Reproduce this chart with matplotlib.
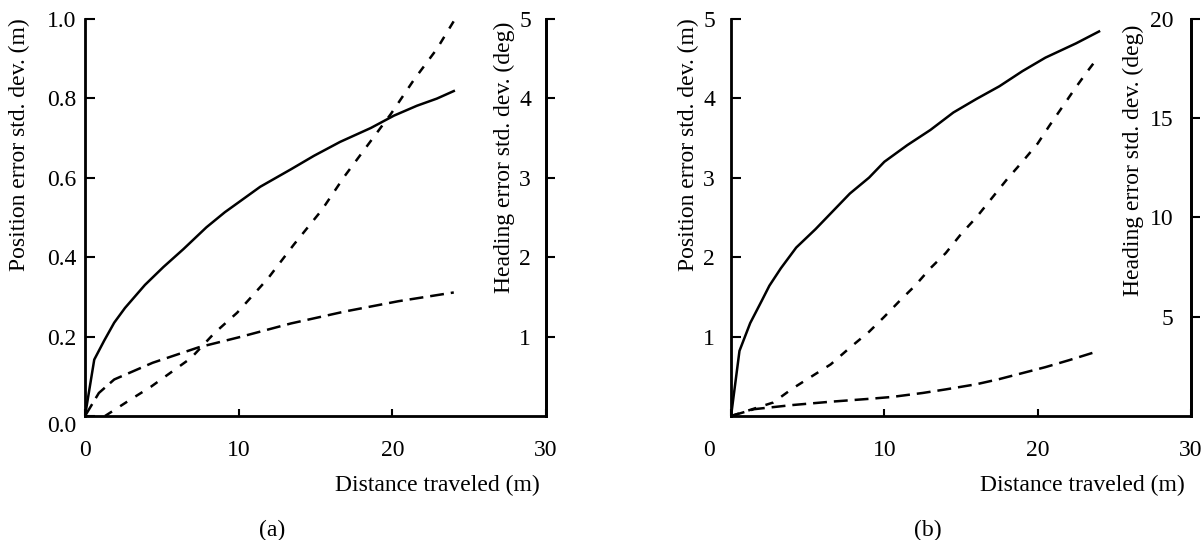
import matplotlib
matplotlib.use("Agg")
import matplotlib.pyplot as plt
import matplotlib.transforms as mtransforms

plt.rcParams['font.family'] = ['Liberation Serif', 'DejaVu Serif']
plt.rcParams['font.size'] = 17
plt.rcParams['lines.scale_dashes'] = False

# ---- panel (a) data ----
a_pos_x = [0, 0.6, 1.25, 1.9, 2.6, 3.9, 5.1, 6.4, 7.9, 9.1, 10.0, 11.4, 13.4, 14.9, 16.6, 18.6, 20.1, 21.6, 22.9, 24.0]
a_pos_y = [0, 0.142, 0.19, 0.235, 0.272, 0.33, 0.375, 0.42, 0.475, 0.513, 0.538, 0.577, 0.621, 0.655, 0.69, 0.725, 0.756, 0.781, 0.799, 0.818]

a_pos2_x = [0, 0.9, 1.9, 4.4, 7.4, 10.1, 13.4, 16.9, 20.4, 24.0]
a_pos2_y = [0, 0.058, 0.092, 0.134, 0.173, 0.199, 0.233, 0.263, 0.289, 0.311]

a_head_x = [1.3, 2.9, 4.3, 6.9, 8.4, 9.9, 11.9, 13.6, 15.4, 16.9, 18.4, 19.9, 21.4, 22.9, 24.0]
a_head_y = [0, 0.2, 0.37, 0.73, 1.04, 1.3, 1.73, 2.16, 2.59, 3.02, 3.41, 3.8, 4.23, 4.62, 4.97]

# ---- panel (b) data ----
b_pos_x = [0, 0.55, 1.25, 2.0, 2.5, 3.25, 4.25, 5.5, 6.5, 7.75, 9.0, 10.0, 11.5, 13.0, 14.5, 16.0, 17.5, 19.0, 20.5, 22.5, 24.0]
b_pos_y = [0, 0.82, 1.17, 1.45, 1.64, 1.86, 2.12, 2.35, 2.55, 2.8, 3.0, 3.2, 3.41, 3.6, 3.82, 3.99, 4.15, 4.34, 4.51, 4.69, 4.84]

b_pos2_x = [0, 1.5, 4.0, 6.5, 9.0, 10.5, 12.5, 14.0, 16.0, 17.5, 19.0, 20.5, 22.0, 24.0]
b_pos2_y = [0, 0.086, 0.138, 0.18, 0.216, 0.24, 0.29, 0.335, 0.4, 0.465, 0.54, 0.615, 0.7, 0.82]

b_head_x = [0, 2.75, 4.0, 5.25, 6.5, 7.75, 9.0, 10.0, 11.0, 12.0, 13.0, 14.0, 15.0, 16.0, 17.0, 18.0, 19.0, 20.0, 20.75, 21.5, 22.5, 23.25, 24.0]
b_head_y = [0, 0.68, 1.38, 1.99, 2.6, 3.44, 4.24, 5.0, 5.8, 6.56, 7.44, 8.2, 9.16, 10.0, 10.96, 11.92, 12.8, 13.72, 14.6, 15.44, 16.56, 17.36, 18.12]

x_ticks = [0, 10, 20, 30]

LONG = (0, (10, 5))
SHORT = (0, (6, 7))
LW = 1.8


def setupPanel(ax, ylim, yticks, ylabels, y2lim, y2ticks, left_pad, right_pad):
    ax.set_xlim(0, 30)
    ax.set_ylim(*ylim)
    ax.set_xticks(x_ticks)
    ax.set_yticks(yticks)
    ax.set_yticklabels(ylabels)
    ax.spines['top'].set_visible(False)
    for s in ['left', 'bottom', 'right']:
        ax.spines[s].set_linewidth(2.0)
    ax.tick_params(axis='x', direction='in', length=5, width=1.5, pad=17)
    ax.tick_params(axis='y', direction='in', length=7.2, width=1.5, pad=left_pad)

    ax2 = ax.twinx()
    ax2.set_ylim(*y2lim)
    ax2.set_yticks(y2ticks)
    ax2.spines['top'].set_visible(False)
    ax2.spines['right'].set_linewidth(2.0)
    ax2.tick_params(axis='y', direction='out', length=6.5, width=1.5, pad=right_pad)
    for lbl in ax2.get_yticklabels():
        lbl.set_horizontalalignment('right')
    return ax2


fig = plt.figure(figsize=(12.01, 5.4), dpi=100)

# panel (a)
axA = fig.add_axes([0.0708, 0.2296, 0.3838, 0.7357])
axA2 = setupPanel(axA, (0, 1.0), [0, 0.2, 0.4, 0.6, 0.8, 1.0],
                  ['0.0', '0.2', '0.4', '0.6', '0.8', '1.0'],
                  (0, 5), [1, 2, 3, 4, 5], 6.5, -17.3)
axA.plot(a_pos_x, a_pos_y, color='black', lw=LW, ls='-')
axA.plot(a_pos2_x, a_pos2_y, color='black', lw=LW, ls=LONG)
axA2.plot(a_head_x, a_head_y, color='black', lw=LW, ls=SHORT)

# panel (b)
axB = fig.add_axes([0.6087, 0.2296, 0.3830, 0.7357])
axB2 = setupPanel(axB, (0, 5), [1, 2, 3, 4, 5], ['1', '2', '3', '4', '5'],
                  (0, 20), [5, 10, 15, 20], 11.5, -19.4)
axB.plot(b_pos_x, b_pos_y, color='black', lw=LW, ls='-')
axB.plot(b_pos2_x, b_pos2_y, color='black', lw=LW, ls=LONG)
axB2.plot(b_head_x, b_head_y, color='black', lw=LW, ls=SHORT)

# axis labels
for ax, ax2, lx, hx, hy in [(axA, axA2, -0.143, 0.909, 0.652), (axB, axB2, -0.0935, 0.874, 0.644)]:
    ax.set_ylabel("Position error std. dev. (m)")
    ax.yaxis.set_label_coords(lx, 0.682)
    ax.yaxis.label.set_va('center')
    ax2.set_ylabel("Heading error std. dev. (deg)", rotation=90)
    ax2.yaxis.set_label_coords(hx, hy)
    ax2.yaxis.label.set_va('center')
    ax.set_xlabel("Distance traveled (m)")
    ax.xaxis.set_label_coords(0.987, -0.174)
    ax.xaxis.label.set_ha('right')
    ax.xaxis.label.set_va('center')

# small label nudges as in the original figure
lblA = axA.get_yticklabels()[0]
lblA.set_transform(lblA.get_transform() + mtransforms.ScaledTranslation(0, -0.08, fig.dpi_scale_trans))
lblB = axB.get_xticklabels()[0]
lblB.set_transform(lblB.get_transform() + mtransforms.ScaledTranslation(-0.22, 0, fig.dpi_scale_trans))

fig.text(0.2265, 0.0185, "(a)", ha='center', va='center')
fig.text(0.7727, 0.0185, "(b)", ha='center', va='center')

fig.savefig("out.png", dpi=100)
